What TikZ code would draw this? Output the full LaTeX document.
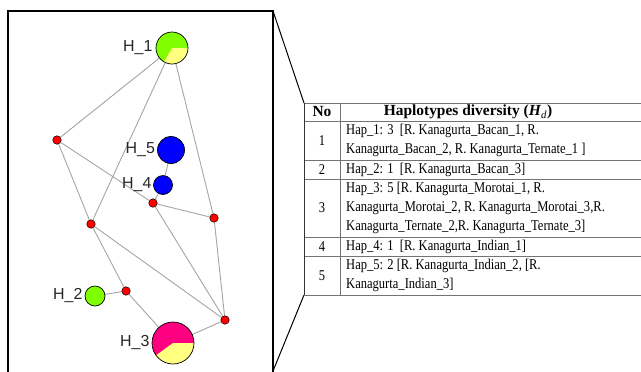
\documentclass[tikz,border=0pt]{standalone}
\usepackage{fontspec}
\setmainfont{Liberation Serif}
\newfontfamily\labfont{Liberation Sans}
\newfontfamily\tabfont[FakeStretch=0.84]{Liberation Serif}
\usetikzlibrary{backgrounds}

\definecolor{pgreen}{RGB}{128,255,0}
\definecolor{pyellow}{RGB}{255,255,128}
\definecolor{pmag}{RGB}{255,0,128}
\definecolor{pblue}{RGB}{0,0,255}
\definecolor{pred}{RGB}{255,0,0}
\definecolor{edgegray}{RGB}{165,165,165}

\begin{document}
\begin{tikzpicture}[x=1bp,y=-1bp,
  hap/.style={circle,draw=black,line width=0.7bp,inner sep=0pt,minimum size=#1},
  med/.style={circle,draw=black,line width=0.5bp,fill=pred,inner sep=0pt,minimum size=8.5bp},
  lab/.style={font=\labfont\fontsize{16}{16}\selectfont,text=black!85,inner sep=0pt},
  pieslice/.style n args={3}{path picture={\fill[#1] (path picture bounding box.center) -- ++(#2:40bp) arc[start angle=#2,end angle=#3,radius=40bp] -- cycle;}},
  link/.style={draw=edgegray,line width=0.9bp},
  frame/.style={draw=black,line width=1.5bp},
  zoomline/.style={draw=black,line width=1bp},
  tline/.style={draw=black!55,line width=1bp},
  tedge/.style={draw=black!80,line width=1bp},
  ttext/.style={font=\tabfont\fontsize{15}{15}\selectfont,inner sep=0pt,anchor=west},
  tnum/.style={font=\tabfont\fontsize{15}{15}\selectfont,inner sep=0pt},
  thead/.style={font=\fontsize{15.5}{15.5}\selectfont\bfseries,inner sep=0pt}
]
\useasboundingbox (0,0) rectangle (641,371);

% left frame
\coordinate (bBL) at (8,372);
\coordinate (bTL) at (8,11);
\coordinate (bTR) at (273,11);
\coordinate (bBR) at (273,372);
\draw[frame] (bBL) -- (bTL) -- (bTR) -- (bBR);

% haplotype nodes
\node[hap=32bp,fill=pgreen,pieslice={pyellow}{-120}{0},label={[lab,label distance=3bp]left:H\_1}] (H1) at (172,48) {};
\node[hap=27bp,fill=pblue,label={[lab,label distance=2bp]left:H\_5}] (H5) at (171,150) {};
\node[hap=19bp,fill=pblue,label={[lab,label distance=1.5bp]left:H\_4}] (H4) at (163,185) {};
\node[hap=20bp,fill=pgreen,label={[lab,label distance=2bp]left:H\_2}] (H2) at (95,296) {};
\node[hap=42bp,fill=pmag,pieslice={pyellow}{-144}{0},label={[lab,label distance=2bp]left:H\_3}] (H3) at (173,343) {};

% median vectors
\node[med] (r1) at (57,140) {};
\node[med] (r2) at (153,203) {};
\node[med] (r3) at (214,218) {};
\node[med] (r4) at (91,224) {};
\node[med] (r5) at (126,291) {};
\node[med] (r6) at (225,320) {};

\begin{scope}[on background layer]
\draw[link] (H1) -- (r1);
\draw[link] (H1) -- (r4);
\draw[link] (H1) -- (r3);
\draw[link] (r1) -- (r4);
\draw[link] (r1) -- (r2);
\draw[link] (H5) -- (H4);
\draw[link] (H4) -- (r2);
\draw[link] (r2) -- (r3);
\draw[link] (r2) -- (r6);
\draw[link] (r4) -- (r6);
\draw[link] (r4) -- (r5);
\draw[link] (r3) -- (r6);
\draw[link] (r5) -- (H2);
\draw[link] (r5) -- (H3);
\draw[link] (H3) -- (r6);
\end{scope}

% table
\coordinate (tTL) at (304,103);
\coordinate (tBL) at (304,295);
\coordinate (tTR) at (641,103);
\coordinate (tBR) at (641,295);
\coordinate (cT) at (340,103);
\coordinate (cB) at (340,295);
\coordinate (bEnd) at (273,371);
\draw[zoomline] (bTR) -- (tTL);
\draw[zoomline] (tBL) -- (bEnd);

\foreach \yy in {121,160,179,237,256} {
  \draw[tline] (304,\yy) -- (641,\yy);
}
\draw[tline] (tTL) -- (tTR);
\draw[tline] (tBL) -- (tBR);
\draw[tline] (cT) -- (cB);
\draw[tedge] (tTL) -- (tBL);

\node[thead] (hNo) at (322,112) {No};
\node[thead] (hHd) at (468,112) {Haplotypes diversity (\textit{H}\textsubscript{\normalfont\itshape d})};

\node[tnum] (n1) at (322,140.5) {1};
\node[ttext] (t1a) at (346,131) {Hap\_1: 3\ \ [R. Kanagurta\_Bacan\_1, R.};
\node[ttext] (t1b) at (346,150) {Kanagurta\_Bacan\_2, R. Kanagurta\_Ternate\_1 ]};

\node[tnum] (n2) at (322,169.5) {2};
\node[ttext] (t2a) at (346,169.5) {Hap\_2: 1\ \ [R. Kanagurta\_Bacan\_3]};

\node[tnum] (n3) at (322,208) {3};
\node[ttext] (t3a) at (346,189) {Hap\_3: 5 [R. Kanagurta\_Morotai\_1, R.};
\node[ttext] (t3b) at (346,208) {Kanagurta\_Morotai\_2, R. Kanagurta\_Morotai\_3,R.};
\node[ttext] (t3c) at (346,227) {Kanagurta\_Ternate\_2,R. Kanagurta\_Ternate\_3]};

\node[tnum] (n4) at (322,246.5) {4};
\node[ttext] (t4a) at (346,246.5) {Hap\_4: 1\ \ [R. Kanagurta\_Indian\_1]};

\node[tnum] (n5) at (322,275.5) {5};
\node[ttext] (t5a) at (346,266) {Hap\_5: 2 [R. Kanagurta\_Indian\_2, [R.};
\node[ttext] (t5b) at (346,285) {Kanagurta\_Indian\_3]};
\end{tikzpicture}
\end{document}
